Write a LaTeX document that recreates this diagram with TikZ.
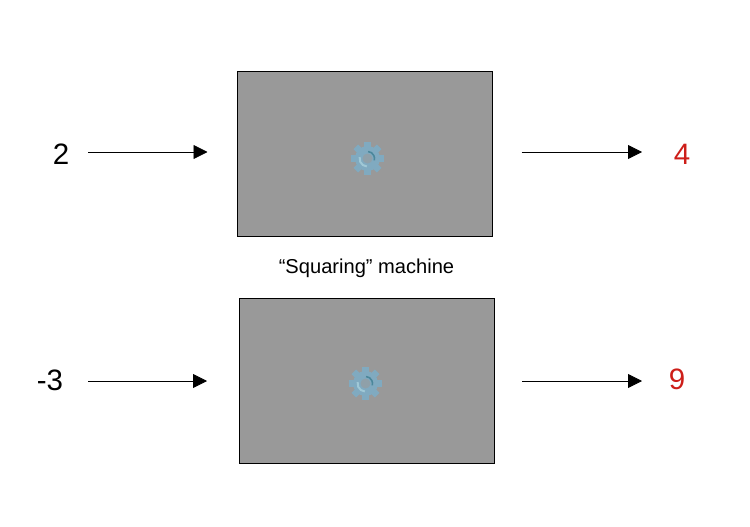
\documentclass[tikz,border=0pt]{standalone}
\usepackage{xcolor}
\usepackage{fontspec}
\setmainfont{Liberation Sans}
\usepackage{tikz}
\usetikzlibrary{arrows.meta, positioning, calc}
\definecolor{mygray}{RGB}{153,153,153}
\definecolor{myred}{RGB}{205,30,25}
\definecolor{mygear}{RGB}{128,170,192}
\definecolor{mygearlight}{RGB}{160,200,214}
\definecolor{mygeardark}{RGB}{75,135,155}
\tikzset{
  machine/.style={rectangle, draw=black, fill=mygray, line width=0.8pt, minimum width=255pt, minimum height=165pt, inner sep=0pt, outer sep=0pt},
  number/.style={font=\fontsize{29.5}{30}\selectfont, inner sep=0pt, outer sep=0pt},
  answer/.style={number, text=myred},
  caption/.style={font=\fontsize{20.1}{24}\selectfont, inner sep=0pt},
  arrow/.style={-{Triangle[length=14pt, width=14pt]}, line width=0.8pt, color=black},
  gear/.pic={
    \foreach \a in {0,45,...,315}
      \fill[mygear, rotate=\a] (-3.2,9) rectangle (3.2,16.5);
    \fill[mygear] (0,0) circle (12.5);
    \fill[mygray!60!mygear] (0,0) circle (5);
    \draw[mygearlight, line width=2pt] (95:8) arc (95:190:8);
    \draw[mygeardark, line width=1.6pt] (-85:7) arc (-85:15:7);
  }
}

\begin{document}
\begin{tikzpicture}[x=1pt, y=-1pt]
  \useasboundingbox (0,0) rectangle (750,527);

  % top machine
  \node[machine] (boxA) at (365,153.5) {};
  \pic at (367.5,158.5) {gear};
  \node[number] (inA) at (61,154) {2};
  \node[answer] (outA) at (682,154) {4};
  \draw[arrow, shorten <=27pt, shorten >=30pt] (inA.center |- 0,152) -- (boxA.west |- 0,152);
  \draw[arrow, shorten <=29pt, shorten >=40pt] (boxA.east |- 0,152) -- (outA.center |- 0,152);

  \node[caption] (label) at (366.5,268) {“Squaring” machine};

  % bottom machine
  \node[machine] (boxB) at (366.5,380.5) {};
  \pic at (365.5,383.5) {gear};
  \node[number] (inB) at (50,380.5) {-3};
  \node[answer] (outB) at (677,379.5) {9};
  \draw[arrow, shorten <=38pt, shorten >=32pt] (inB.center |- 0,381) -- (boxB.west |- 0,381);
  \draw[arrow, shorten <=28pt, shorten >=35pt] (boxB.east |- 0,381) -- (outB.center |- 0,381);
\end{tikzpicture}
\end{document}
